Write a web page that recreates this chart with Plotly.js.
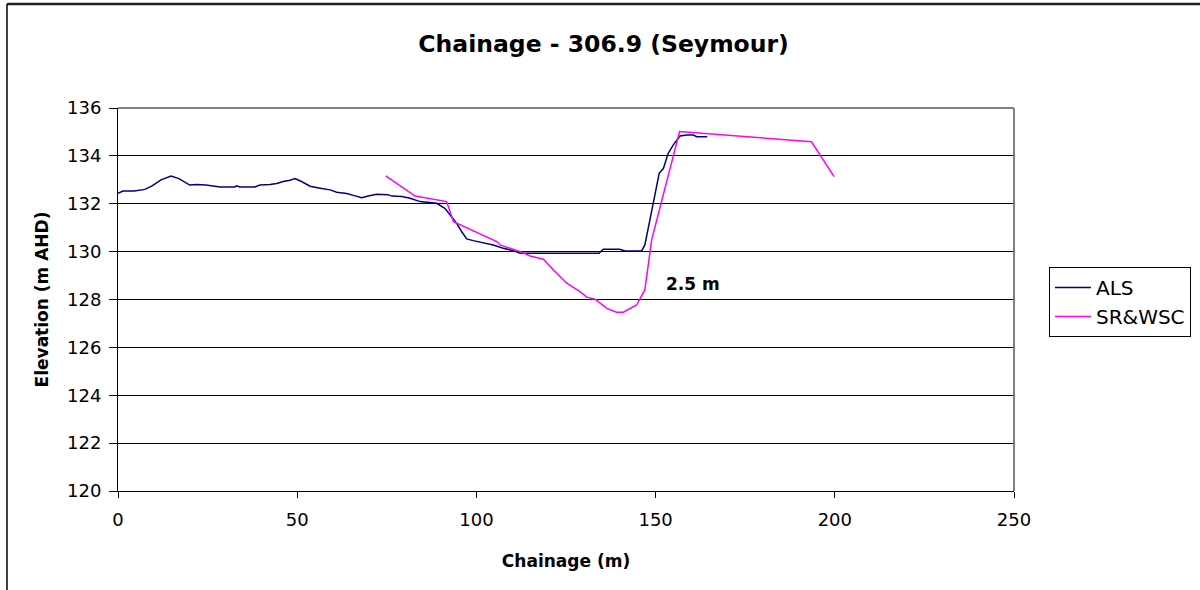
<!DOCTYPE html>
<html>
<head>
<meta charset="utf-8">
<script src="https://cdn.plot.ly/plotly-3.0.1.min.js"></script>
<style>html,body{margin:0;padding:0;background:#fff;}#chart{width:1200px;height:590px;}</style>
</head>
<body>
<div id="chart"></div>
<script>
// ALS survey (chainage m, elevation m AHD)
const alsX = [0, 1.4, 4.5, 7.5, 9.5, 12, 14.8, 17, 20, 22, 24.5, 26.5, 28.5, 32.6, 33.1, 34, 38.2, 39.6, 42.4, 44.3, 46.1, 48, 49.4, 51.2, 53.6, 56.4, 59.2, 61, 63.8, 65.7, 68, 69.8, 72.2, 75.3, 76.4, 79.2, 81.5, 84.3, 87, 88.9, 91.2, 92.6, 94.5, 95.9, 97.3, 99.1, 101.9, 104.7, 107.5, 110.3, 112.2, 117.7, 125, 134.2, 135.4, 140, 141.5, 146.1, 147, 148.4, 149.8, 151, 152.2, 153.5, 154.9, 156.8, 158.7, 160.5, 161.5, 164.4];
const alsY = [132.44, 132.53, 132.53, 132.6, 132.75, 133.0, 133.16, 133.05, 132.78, 132.8, 132.78, 132.75, 132.7, 132.7, 132.75, 132.7, 132.7, 132.78, 132.8, 132.85, 132.93, 132.98, 133.05, 132.93, 132.73, 132.65, 132.58, 132.48, 132.43, 132.35, 132.25, 132.32, 132.4, 132.38, 132.32, 132.3, 132.23, 132.09, 132.06, 132.02, 131.81, 131.53, 131.18, 130.83, 130.53, 130.46, 130.37, 130.28, 130.14, 130.04, 129.93, 129.92, 129.93, 129.93, 130.1, 130.1, 130.03, 130.03, 130.28, 131.32, 132.3, 133.27, 133.48, 134.1, 134.45, 134.83, 134.87, 134.87, 134.8, 134.8];
// SR&WSC survey
const srX = [74.7, 82.9, 91.7, 93.6, 105.7, 106.6, 109.4, 112.2, 115, 118.7, 121.5, 125.2, 128.9, 130.8, 133.1, 136.4, 139.1, 141, 144.7, 147, 148.9, 156.7, 193.5, 199.8];
const srY = [133.16, 132.32, 132.09, 131.25, 130.42, 130.28, 130.14, 130.0, 129.82, 129.68, 129.23, 128.68, 128.33, 128.1, 128.01, 127.63, 127.47, 127.47, 127.77, 128.4, 130.49, 135.02, 134.59, 133.13];
const seriesNames = ["ALS", "SR&WSC"];
const xTicks = [0, 50, 100, 150, 200, 250];
const yTicks = [120, 122, 124, 126, 128, 130, 132, 134, 136];
const noteText = "2.5 m";
const noteX = 160.4, noteY = 128.65;

const F = "DejaVu Sans, Arial, sans-serif";
const traces = [
  {x: alsX, y: alsY, name: seriesNames[0], type: "scatter", mode: "lines", line: {color: "#000080", width: 1.5}},
  {x: srX, y: srY, name: seriesNames[1], type: "scatter", mode: "lines", line: {color: "#FF00FF", width: 1.5}}
];
const layout = {
  width: 1200, height: 590,
  margin: {l: 118, r: 186, t: 108, b: 99, autoexpand: false},
  paper_bgcolor: "#fff", plot_bgcolor: "#fff",
  font: {family: F, size: 18, color: "#000"},
  title: {text: "<b>Chainage - 306.9 (Seymour)</b>", font: {family: F, size: 23.5, color: "#000"}, x: 0.503, xanchor: "center", y: 0.925, yanchor: "middle"},
  xaxis: {range: [0, 250], tickvals: xTicks, ticktext: xTicks.map(String), showgrid: false, zeroline: false,
    showline: true, linecolor: "#000", linewidth: 1, ticks: "outside", ticklen: 6, tickcolor: "#000", ticklabelstandoff: 6,
    tickfont: {family: F, size: 18}, title: {text: "<b>Chainage (m)</b>", font: {family: F, size: 17}, standoff: 26}},
  yaxis: {range: [120, 136], tickvals: yTicks, ticktext: yTicks.map(String), showgrid: true, gridcolor: "#000", gridwidth: 1,
    zeroline: false, showline: true, linecolor: "#000", linewidth: 1, ticks: "outside", ticklen: 8, tickcolor: "#000", ticklabelstandoff: 4,
    tickfont: {family: F, size: 18}, title: {text: "<b>Elevation (m AHD)</b>", font: {family: F, size: 17}, standoff: 14}},
  legend: {x: 1.039, xanchor: "left", y: 0.585, yanchor: "top", bordercolor: "#000", borderwidth: 1, bgcolor: "#fff",
    font: {family: F, size: 20}, tracegroupgap: 0, itemwidth: 36},
  showlegend: true,
  annotations: [{x: noteX, y: noteY, xref: "x", yref: "y", text: "<b>" + noteText + "</b>", showarrow: false, font: {family: F, size: 17, color: "#000"}}],
  shapes: [
    {type: "line", xref: "paper", yref: "paper", x0: 0, x1: 1, y0: 1, y1: 1, line: {color: "#808080", width: 2}, layer: "above"},
    {type: "line", xref: "paper", yref: "paper", x0: 1, x1: 1, y0: 0, y1: 1, line: {color: "#808080", width: 2}, layer: "above"},
    {type: "line", xref: "paper", yref: "paper", x0: -0.1239, x1: 1.3, y0: 1.2715, y1: 1.2715, line: {color: "#222", width: 2.5}},
    {type: "line", xref: "paper", yref: "paper", x0: -0.1239, x1: -0.1239, y0: -0.3, y1: 1.2715, line: {color: "#000", width: 1.5}}
  ]
};
Plotly.newPlot("chart", traces, layout, {staticPlot: true, displayModeBar: false});
</script>
</body>
</html>
